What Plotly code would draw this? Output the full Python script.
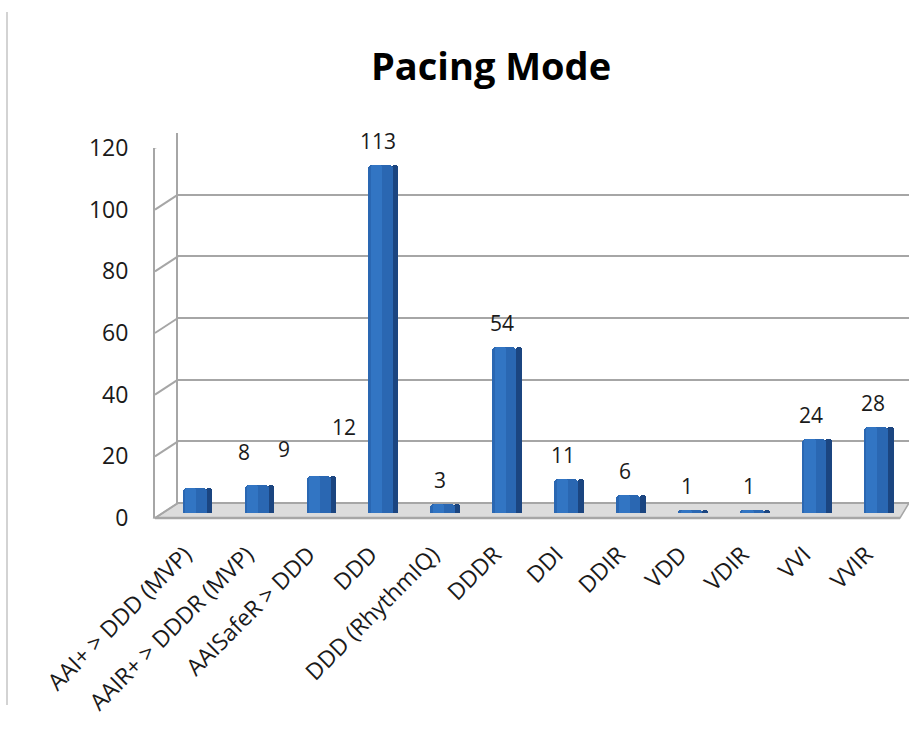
import plotly.graph_objects as go

# Pacing-mode counts
modes = ["AAI+ > DDD (MVP)", "AAIR+ > DDDR (MVP)", "AAISafeR > DDD", "DDD",
         "DDD (RhythmIQ)", "DDDR", "DDI", "DDIR", "VDD", "VDIR", "VVI", "VVIR"]
counts = [8, 9, 12, 113, 3, 54, 11, 6, 1, 1, 24, 28]
y_ticks = [0, 20, 40, 60, 80, 100, 120]
title_text = "Pacing Mode"

W, H = 909, 733
FONT = "Open Sans"
GRID = "#a6a6a6"


def fx(px):
    return px / W


def fy(py):
    return 1 - py / H


fig = go.Figure()

# back wall (gridlines) subplot
fig.add_trace(go.Scatter(x=[], y=[], xaxis="x", yaxis="y", showlegend=False, hoverinfo="skip"))
# front value axis subplot
fig.add_trace(go.Scatter(x=[], y=[], xaxis="x2", yaxis="y2", showlegend=False, hoverinfo="skip"))

# bars: dark side face, front face, lighter highlight strip
fig.add_trace(go.Bar(x=modes, y=counts, xaxis="x3", yaxis="y3", width=0.10, offset=0.15,
                     marker=dict(color="#1b4580", line=dict(width=0), cornerradius=3),
                     showlegend=False, hoverinfo="skip"))
fig.add_trace(go.Bar(x=modes, y=counts, xaxis="x3", yaxis="y3", width=0.39, offset=-0.23,
                     marker=dict(color="#2a67b2", line=dict(width=0), cornerradius=4),
                     showlegend=False, hoverinfo="skip"))
fig.add_trace(go.Bar(x=modes, y=counts, xaxis="x3", yaxis="y3", width=0.18, offset=-0.19,
                     marker=dict(color="#3478c6", line=dict(width=0), cornerradius=3),
                     opacity=0.85, showlegend=False, hoverinfo="skip"))

# floor slab
floor_path = (f"M {fx(178)} {fy(503)} L {fx(909)} {fy(503)} L {fx(900)} {fy(518)} "
              f"L {fx(155)} {fy(518)} Z")
shapes = [
    dict(type="path", xref="paper", yref="paper", path=floor_path,
         fillcolor="#dcdcdc", line=dict(color=GRID, width=1.5), layer="below"),
    dict(type="line", xref="paper", yref="paper", x0=fx(155), x1=fx(900),
         y0=fy(518), y1=fy(518), line=dict(color=GRID, width=2.5), layer="below"),
    # slide border line
    dict(type="line", xref="paper", yref="paper", x0=fx(7), x1=fx(7),
         y0=fy(12), y1=fy(705), line=dict(color="#c4c4c4", width=1.5), layer="below"),
]
# slanted connectors between front axis and back wall
for t in y_ticks:
    shapes.append(dict(type="line", xref="paper", yref="y2", ysizemode="pixel", yanchor=t,
                       x0=fx(155), x1=fx(178), y0=0, y1=15,
                       line=dict(color=GRID, width=2), layer="below"))

# value labels above bars
label_shift = {0: (47, 36), 1: (25, 36), 2: (23, 49)}
annotations = []
for i, (m, v) in enumerate(zip(modes, counts)):
    dx, dy = label_shift.get(i, (-5, 24))
    annotations.append(dict(x=m, y=v, xref="x3", yref="y3", text=str(v), showarrow=False,
                            xshift=dx, yshift=dy, xanchor="center", yanchor="middle",
                            font=dict(family=FONT, size=21, color="#1a1a1a")))
annotations.append(dict(x=fx(491), y=fy(65), xref="paper", yref="paper",
                        text=f"<b>{title_text}</b>", showarrow=False,
                        xanchor="center", yanchor="middle",
                        font=dict(family=FONT, size=38, color="#000000")))

fig.update_layout(
    width=W, height=H, autosize=False,
    margin=dict(l=0, r=0, t=0, b=0, pad=0),
    paper_bgcolor="white", plot_bgcolor="rgba(0,0,0,0)",
    barmode="overlay", bargap=0,
    shapes=shapes, annotations=annotations,
    font=dict(family=FONT, color="#1a1a1a"),
    # back wall
    xaxis=dict(domain=[fx(178), 1.0], range=[0, 1], visible=False, fixedrange=True,
               automargin=False),
    yaxis=dict(domain=[fy(503), fy(133)], range=[0, 120], dtick=20, showgrid=True,
               gridcolor=GRID, gridwidth=2, zeroline=True, zerolinecolor=GRID,
               zerolinewidth=2, showline=True, linecolor=GRID, linewidth=2,
               showticklabels=False, ticks="", anchor="x", automargin=False),
    # front value axis
    xaxis2=dict(domain=[fx(155), 1.0], range=[0, 1], visible=False, fixedrange=True,
                automargin=False),
    yaxis2=dict(domain=[fy(518), fy(148)], range=[0, 120], tickvals=y_ticks,
                showgrid=False, zeroline=False, showline=True, linecolor=GRID,
                linewidth=2, ticks="outside", ticklen=20, tickcolor="rgba(0,0,0,0)",
                tickfont=dict(family=FONT, size=23, color="#1a1a1a"), anchor="x2",
                automargin=False),
    # bars
    xaxis3=dict(domain=[fx(166), 1.0], range=[-0.5, 11.5], type="category",
                tickangle=-45, tickfont=dict(family=FONT, size=23, color="#1a1a1a"),
                ticks="outside", ticklen=18, tickcolor="rgba(0,0,0,0)",
                ticklabelshift=-12,
                showgrid=False, zeroline=False, showline=False, anchor="y3",
                automargin=False),
    yaxis3=dict(domain=[fy(513), fy(143)], range=[0, 120], visible=False, anchor="x3",
                automargin=False),
)

fig.write_html("out.html")
